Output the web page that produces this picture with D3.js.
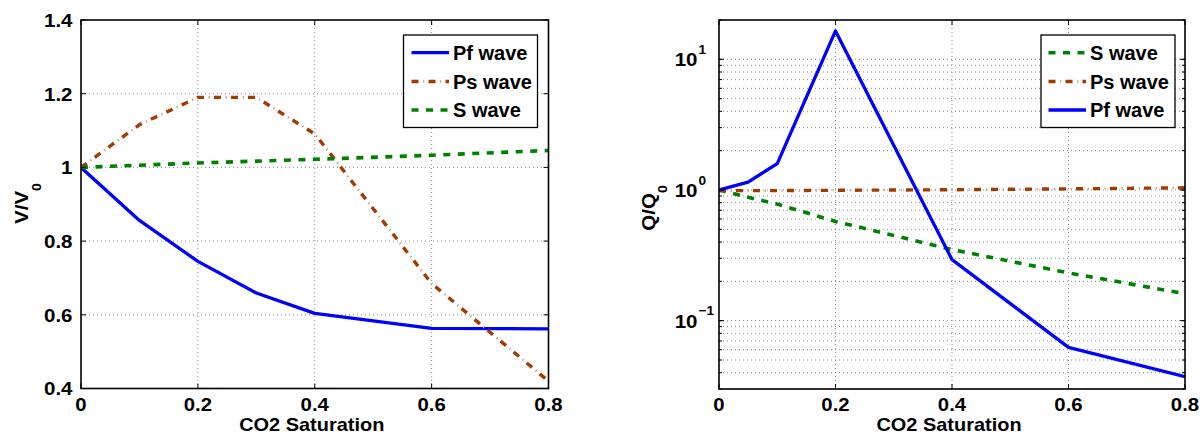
<!DOCTYPE html>
<html><head><meta charset="utf-8">
<script src="https://cdn.jsdelivr.net/npm/d3@7"></script>
<style>
html,body{margin:0;padding:0;background:#fff;}
svg text{font-family:"Liberation Sans",Arial,Helvetica,sans-serif;font-weight:bold;fill:#000;}
</style></head>
<body>
<svg id="chart" width="1200" height="434"></svg>
<script>
// ---------- Data ----------
const satLeft = [0, 0.1, 0.2, 0.3, 0.4, 0.6, 0.8];
const velPf = [1.0, 0.856, 0.745, 0.659, 0.604, 0.563, 0.562];
const velPs = [1.0, 1.116, 1.19, 1.19, 1.091, 0.685, 0.42];
const velS  = [1.0, 1.006, 1.012, 1.017, 1.022, 1.033, 1.046];

const satRight = [0, 0.05, 0.1, 0.2, 0.4, 0.6, 0.8];
const qS  = [1.0, 0.88, 0.78, 0.575, 0.35, 0.232, 0.161];
const qPs = [0.99, 0.99, 0.99, 0.995, 1.005, 1.02, 1.04];
const qPf = [1.0, 1.15, 1.59, 16.5, 0.293, 0.0625, 0.0373];

const xTicks = [0, 0.2, 0.4, 0.6, 0.8];
const xTickLabels = ["0", "0.2", "0.4", "0.6", "0.8"];
const yTicksLeft = [0.4, 0.6, 0.8, 1.0, 1.2, 1.4];
const yTickLabelsLeft = ["0.4", "0.6", "0.8", "1", "1.2", "1.4"];
const yTicksRight = [0.1, 1, 10];
const yTickExpRight = ["\u22121", "0", "1"];

const leftLegend = ["Pf wave", "Ps wave", "S wave"];
const rightLegend = ["S wave", "Ps wave", "Pf wave"];

// ---------- Styles ----------
const styles = {
  Pf: {color: "#0000ff", width: 3.3, dash: null},
  Ps: {color: "#a33a00", width: 3.4, dash: "7,10", dot: {color: "#cf9a7a", width: 2.6, dash: "1.2,15.8", offset: 5.4}},
  S:  {color: "#008000", width: 3.6, dash: "7,7.5"}
};

const svg = d3.select("#chart");

function txt(g, x, y, s, size, anchor, sx) {
  return g.append("text")
    .attr("transform", `translate(${x},${y}) scale(${sx || 1},1)`)
    .attr("text-anchor", anchor || "start").attr("font-size", size).text(s);
}

function strokeSeries(sel, st) {
  sel.attr("fill", "none").attr("stroke", st.color).attr("stroke-width", st.width)
    .attr("stroke-dasharray", st.dash).attr("stroke-linejoin", "round");
}
function dotSeries(sel, st) {
  sel.attr("fill", "none").attr("stroke", st.dot.color).attr("stroke-width", st.dot.width)
    .attr("stroke-dasharray", st.dot.dash).attr("stroke-dashoffset", st.dot.offset);
}

function panel(opt) {
  const g = svg.append("g");
  const x = opt.x, y = opt.y;
  const [x0, x1] = x.range();
  const [yb, yt] = y.range();
  const clipId = "clip" + opt.id;
  svg.append("clipPath").attr("id", clipId).append("rect")
    .attr("x", x0).attr("y", yt).attr("width", x1 - x0).attr("height", yb - yt);

  // grid
  const grid = g.append("g").attr("stroke", "#8a8a8a").attr("stroke-width", 1)
    .attr("stroke-dasharray", "1,3");
  xTicks.slice(1, -1).forEach(t => grid.append("line")
    .attr("x1", x(t)).attr("x2", x(t)).attr("y1", yt).attr("y2", yb));
  opt.gridY.forEach(t => grid.append("line")
    .attr("x1", x0).attr("x2", x1).attr("y1", y(t)).attr("y2", y(t)));

  // lines
  const lg = g.append("g").attr("clip-path", `url(#${clipId})`);
  opt.series.forEach(s => {
    const st = styles[s.key];
    const line = d3.line().x((d, i) => x(s.xs[i])).y(d => y(d));
    if (st.dot) dotSeries(lg.append("path").datum(s.vals).attr("d", line), st);
    strokeSeries(lg.append("path").datum(s.vals).attr("d", line), st);
  });

  // axes box and ticks
  const ax = g.append("g").attr("stroke", "#000").attr("fill", "none");
  ax.append("rect").attr("x", x0).attr("y", yt).attr("width", x1 - x0).attr("height", yb - yt)
    .attr("stroke-width", 1.6);
  const tl = 5;
  xTicks.forEach(t => {
    ax.append("line").attr("x1", x(t)).attr("x2", x(t)).attr("y1", yb).attr("y2", yb - tl).attr("stroke-width", 1);
    ax.append("line").attr("x1", x(t)).attr("x2", x(t)).attr("y1", yt).attr("y2", yt + tl).attr("stroke-width", 1);
  });
  opt.yTicks.forEach(t => {
    ax.append("line").attr("x1", x0).attr("x2", x0 + tl).attr("y1", y(t)).attr("y2", y(t)).attr("stroke-width", 1);
    ax.append("line").attr("x1", x1).attr("x2", x1 - tl).attr("y1", y(t)).attr("y2", y(t)).attr("stroke-width", 1);
  });
  (opt.minorY || []).forEach(t => {
    ax.append("line").attr("x1", x0).attr("x2", x0 + 3).attr("y1", y(t)).attr("y2", y(t)).attr("stroke-width", 1);
    ax.append("line").attr("x1", x1).attr("x2", x1 - 3).attr("y1", y(t)).attr("y2", y(t)).attr("stroke-width", 1);
  });

  // x tick labels
  xTicks.forEach((t, i) => txt(g, x(t), 410.5, xTickLabels[i], 18.5, "middle", 1.1));
  // x label
  txt(g, (x0 + x1) / 2 - 3, 430.5, "CO2 Saturation", 17.5, "middle", 1.14);

  // legend
  const L = opt.legend;
  g.append("rect").attr("x", L.x0).attr("y", 35).attr("width", L.x1 - L.x0).attr("height", 92.5)
    .attr("fill", "#fff").attr("stroke", "#000").attr("stroke-width", 1.3);
  const rows = [52.7, 81.5, 110];
  L.keys.forEach((k, i) => {
    const st = styles[k.key];
    const ln = (sel) => sel.attr("x1", L.lx0).attr("x2", L.lx1).attr("y1", rows[i]).attr("y2", rows[i]);
    if (st.dot) dotSeries(ln(g.append("line")), st);
    strokeSeries(ln(g.append("line")), st);
    txt(g, L.tx, rows[i] + 7.3, k.label, 20, "start", 1.0);
  });
  return g;
}

// ---------- Left panel ----------
const xL = d3.scaleLinear().domain([0, 0.8]).range([81, 548.5]);
const yL = d3.scaleLinear().domain([0.4, 1.4]).range([388.5, 20]);
const gL = panel({
  id: "L", x: xL, y: yL,
  gridY: [0.6, 0.8, 1.0, 1.2],
  yTicks: yTicksLeft,
  series: [
    {key: "Pf", xs: satLeft, vals: velPf},
    {key: "Ps", xs: satLeft, vals: velPs},
    {key: "S", xs: satLeft, vals: velS}
  ],
  legend: {x0: 403.5, x1: 537.5, lx0: 411.5, lx1: 449, tx: 453,
    keys: leftLegend.map(l => ({label: l, key: l.split(" ")[0]}))}
});
yTicksLeft.forEach((t, i) => txt(gL, 72.5, yL(t) + 6.8, yTickLabelsLeft[i], 19, "end", 1.08));
const ylabL = gL.append("text").attr("transform", "translate(28,203.5) rotate(-90) scale(1.08,1)")
  .attr("text-anchor", "middle").attr("font-size", 19);
ylabL.append("tspan").text("V/V");
ylabL.append("tspan").attr("font-size", 13).attr("dy", 13).text("0");

// ---------- Right panel ----------
const xR = d3.scaleLinear().domain([0, 0.8]).range([719, 1185]);
const yR = d3.scaleLog().domain([0.03, 20]).range([389, 20]);
const minorR = [];
[0.01, 0.1, 1, 10].forEach(d => { for (let m = 1; m <= 9; m++) { const v = d * m; if (v >= 0.03 && v <= 20) minorR.push(v); } });
const gR = panel({
  id: "R", x: xR, y: yR,
  gridY: minorR.filter(v => v < 20),
  yTicks: yTicksRight,
  minorY: minorR,
  series: [
    {key: "S", xs: satRight, vals: qS},
    {key: "Ps", xs: satRight, vals: qPs},
    {key: "Pf", xs: satRight, vals: qPf}
  ],
  legend: {x0: 1041, x1: 1175, lx0: 1048.5, lx1: 1086, tx: 1090,
    keys: rightLegend.map(l => ({label: l, key: l.split(" ")[0]}))}
});
yTicksRight.forEach((t, i) => {
  txt(gR, 697.5, yR(t) + 7, "10", 19, "end", 1.08);
  txt(gR, 698.5, yR(t) - 5.5, yTickExpRight[i], 13, "start", 1.05);
});
const ylabR = gR.append("text").attr("transform", "translate(655,208) rotate(-90) scale(1.08,1)")
  .attr("text-anchor", "middle").attr("font-size", 19);
ylabR.append("tspan").text("Q/Q");
ylabR.append("tspan").attr("font-size", 13).attr("dy", 12).text("0");
</script>
</body></html>
